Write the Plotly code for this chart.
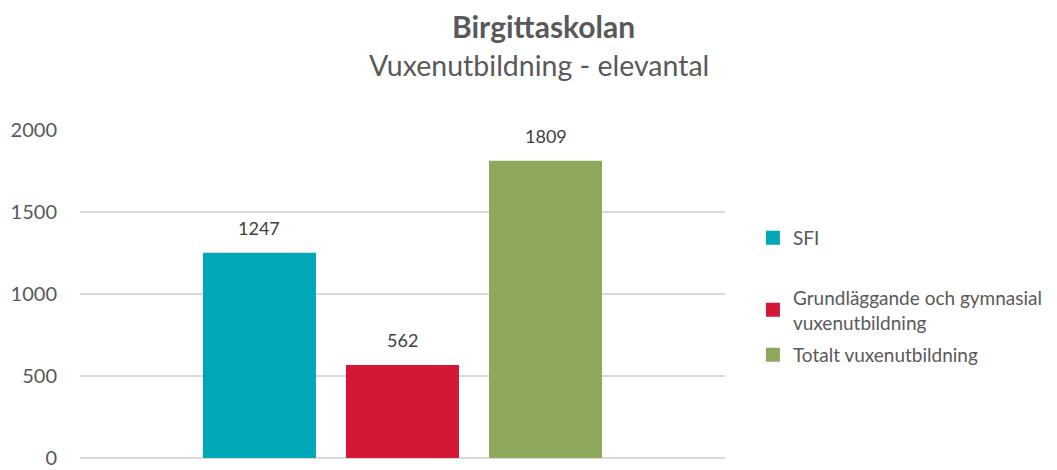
import plotly.graph_objects as go

categories = ["SFI", "Grundläggande och gymnasial vuxenutbildning", "Totalt vuxenutbildning"]
legend_labels = ["SFI", "Grundläggande och gymnasial<br>vuxenutbildning", "Totalt vuxenutbildning"]
values = [1247, 562, 1809]
colors = ["#00A8B8", "#D51737", "#8EA85C"]
y_ticks = [0, 500, 1000, 1500, 2000]
title_text = "Birgittaskolan"
subtitle_text = "Vuxenutbildning - elevantal"

FONT = "Lato"
legend_names = ["legend", "legend2", "legend3"]
legend_y = [0.671, 0.451, 0.314]

fig = go.Figure()
for cat, lab, val, col, lg in zip(categories, legend_labels, values, colors, legend_names):
    fig.add_trace(go.Bar(
        x=[cat], y=[val], name=lab, legend=lg,
        marker=dict(color=col, line=dict(color=col, width=2)),
        hoverinfo="x+y",
    ))
    fig.add_annotation(
        x=cat, y=val, xref="x", yref="y", text=str(val), showarrow=False,
        yanchor="middle", yshift=26,
        font=dict(family=FONT, size=18, color="#404040"),
    )

fig.add_annotation(x=0.718, y=1.317, xref="paper", yref="paper", text="<b>" + title_text + "</b>",
                   showarrow=False, xanchor="center", yanchor="middle",
                   font=dict(family=FONT, size=30, color="#595959"))
fig.add_annotation(x=0.712, y=1.198, xref="paper", yref="paper", text=subtitle_text,
                   showarrow=False, xanchor="center", yanchor="middle",
                   font=dict(family=FONT, size=28.5, color="#595959"))

legend_common = dict(x=1.0433, xanchor="left", yanchor="middle", bgcolor="rgba(0,0,0,0)",
                     font=dict(family=FONT, size=19, color="#595959"), itemclick=False,
                     itemdoubleclick=False)
layout_legends = {}
for lg, ly in zip(legend_names, legend_y):
    layout_legends[lg] = dict(y=ly, **legend_common)

fig.update_layout(
    width=1057, height=470,
    margin=dict(l=80, r=332, t=130, b=12, autoexpand=False),
    paper_bgcolor="white", plot_bgcolor="white",
    barmode="group", bargap=0.224, bargroupgap=0,
    showlegend=True,
    font=dict(family=FONT, color="#595959"),
    xaxis=dict(type="category", range=[-1.255, 3.255], showticklabels=False, showgrid=False,
               zeroline=False, showline=False, ticks="", fixedrange=True, automargin=False),
    yaxis=dict(range=[0, 2003], tickvals=y_ticks, showgrid=True, gridcolor="#D9D9D9", gridwidth=1.5,
               zeroline=True, zerolinecolor="#D9D9D9", zerolinewidth=1.5, showline=False, ticks="",
               tickfont=dict(family=FONT, size=20, color="#595959"), ticklabelstandoff=22,
               fixedrange=True, automargin=False),
    **layout_legends,
)

fig.write_html(
    "out.html",
    config={"displayModeBar": False},
    post_script="document.body.style.margin='0';document.body.style.overflow='hidden';",
)
